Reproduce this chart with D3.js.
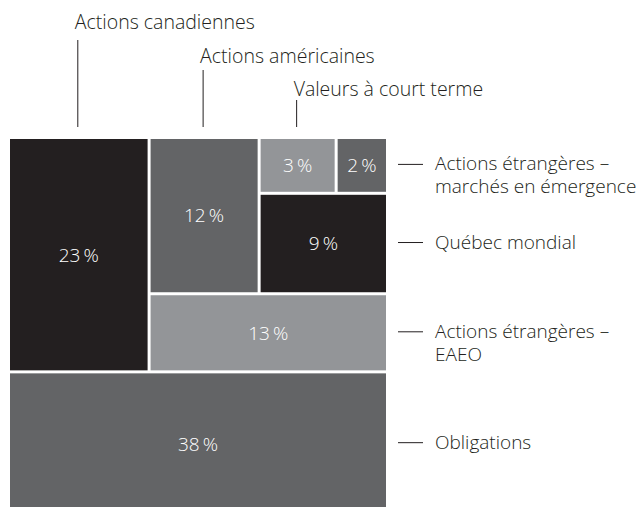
<!DOCTYPE html>
<html><head><meta charset="utf-8">
<script src="https://cdn.jsdelivr.net/npm/d3@7"></script>
<style>
html,body{margin:0;padding:0;background:#fff;}
text{font-family:"Open Sans","Noto Sans",sans-serif;font-weight:300;}
</style></head>
<body><svg id="c" width="642" height="507"></svg>
<script>
const categories = ["Actions canadiennes","Actions américaines","Valeurs à court terme","Actions étrangères – marchés en émergence","Québec mondial","Actions étrangères – EAEO","Obligations"];
const labelLines = [["Actions canadiennes"],["Actions américaines"],["Valeurs à court terme"],["Actions étrangères –","marchés en émergence"],["Québec mondial"],["Actions étrangères –","EAEO"],["Obligations"]];
const values = [23,12,3,2,9,13,38];
const shadeIndex = [0,1,2,1,0,2,1];
const shades = ["#231f20","#636466","#939598"];

const leaf = i => ({name: categories[i], value: values[i], i});
const tree = {children:[
  {children:[leaf(0), {children:[
    {children:[leaf(1), {children:[{children:[leaf(2), leaf(3)]}, leaf(4)]}]},
    leaf(5)]}]},
  leaf(6)]};

const svg = d3.select("#c");
const mLeft = 10, mTop = 139, w = 376, h = 375;
const tile = (node, x0, y0, x1, y1) => (node.depth & 1 ? d3.treemapDice : d3.treemapSlice)(node, x0, y0, x1, y1);
const root = d3.hierarchy(tree).sum(d => d.value || 0);
d3.treemap().size([w, h]).paddingInner(3).tile(tile)(root);
const leaves = root.leaves();

const g = svg.append("g").attr("transform", `translate(${mLeft},${mTop})`);
g.selectAll("rect").data(leaves).join("rect")
  .attr("x", d => d.x0).attr("y", d => d.y0)
  .attr("width", d => d.x1 - d.x0).attr("height", d => d.y1 - d.y0)
  .attr("fill", d => shades[shadeIndex[d.data.i]]);
g.selectAll("text.pct").data(leaves).join("text").attr("class","pct")
  .attr("x", d => (d.x0 + d.x1) / 2).attr("y", d => (d.y0 + d.y1) / 2)
  .attr("dy", "0.36em").attr("text-anchor","middle")
  .attr("fill","#ffffff").style("font-size","19px")
  .text(d => d.data.value + "\u2009%");

// top annotations
const topLevels = [{ty:29, l0:40},{ty:63, l0:70},{ty:96, l0:100}];
const ann = svg.append("g").attr("transform", `translate(${mLeft},${mTop})`);
[0,1,2].forEach((ci, k) => {
  const d = leaves.find(n => n.data.i === ci);
  const cx = (d.x0 + d.x1) / 2 - 1;
  ann.append("line").attr("x1", cx).attr("x2", cx)
    .attr("y1", topLevels[k].l0 - mTop).attr("y2", 127 - mTop)
    .attr("stroke","#231f20").attr("stroke-width",1);
  ann.append("text").attr("x", cx - 3).attr("y", topLevels[k].ty - mTop)
    .attr("fill","#231f20").style("font-size","19.5px").text(labelLines[ci][0]);
});
// right annotations
[3,4,5,6].forEach(ci => {
  const d = leaves.find(n => n.data.i === ci);
  const cy = (d.y0 + d.y1) / 2 - 1;
  ann.append("line").attr("x1", 398 - mLeft).attr("x2", 423 - mLeft)
    .attr("y1", cy).attr("y2", cy).attr("stroke","#231f20").attr("stroke-width",1);
  labelLines[ci].forEach((s, j) => ann.append("text")
    .attr("x", 435 - mLeft).attr("y", cy + 6 + j * 23)
    .attr("fill","#231f20").style("font-size","19px").text(s));
});
</script></body></html>
